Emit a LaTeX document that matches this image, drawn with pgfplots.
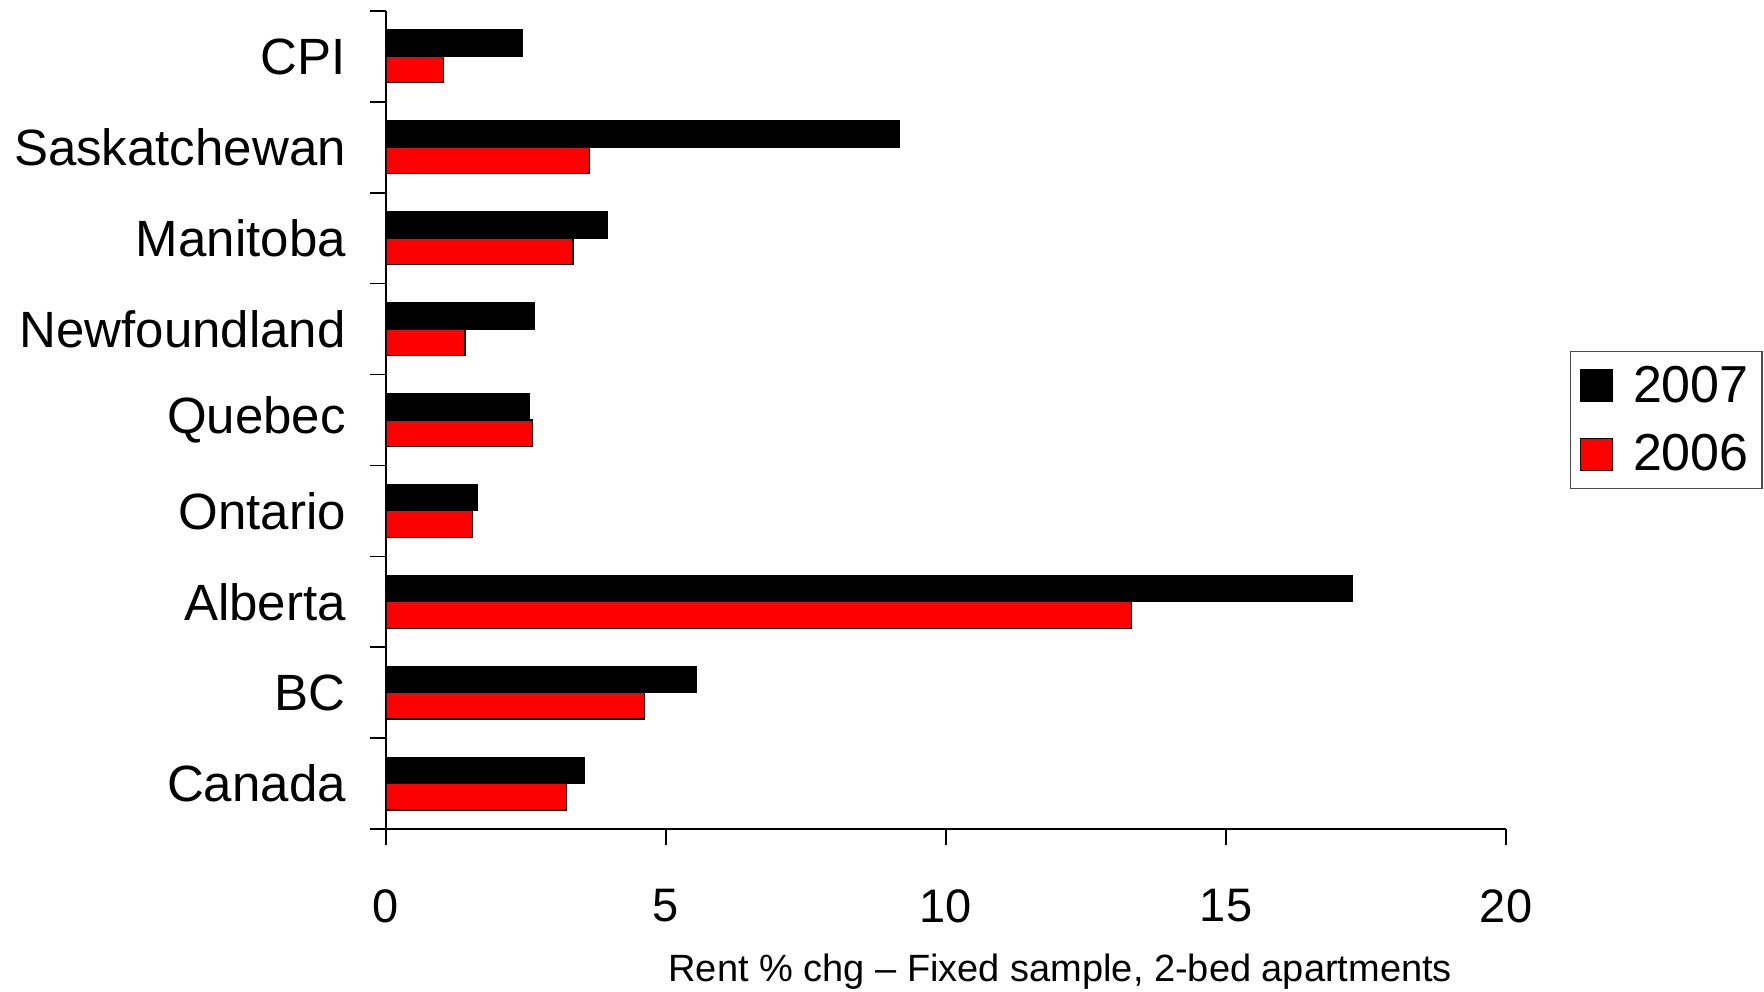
\documentclass[border=0pt]{standalone}
\usepackage{fontspec}
\setmainfont{Liberation Sans}
\usepackage{pgfplots}
\usepackage{pgfplotstable}
\pgfplotsset{compat=1.18}
\pgfplotstableread{
cat v2007 v2006
0 3.54 3.22
1 5.54 4.62
2 17.25 13.31
3 1.63 1.54
4 2.56 2.62
5 2.65 1.41
6 3.96 3.34
7 9.16 3.64
8 2.43 1.02
}\rentdata
\begin{document}
\begin{tikzpicture}
\useasboundingbox (-193pt,-81pt) rectangle (689pt,414.5pt);
\begin{axis}[
  scale only axis, width=560pt, height=409pt,
  xbar, bar width=0.29,
  xmin=0, xmax=20, ymin=-0.5, ymax=8.5,
  axis lines*=left,
  axis line style={line width=0.75pt},
  xtick={0,5,10,15,20},
  ytick={-0.5,0.5,1.5,2.5,3.5,4.5,5.5,6.5,7.5,8.5},
  yticklabels={Canada,BC,Alberta,Ontario,Quebec,Newfoundland,Manitoba,Saskatchewan,CPI,{}},
  major tick length=8pt,
  tick align=outside,
  tick style={line width=0.75pt, black},
  /pgf/number format/assume math mode=true,
  xticklabel style={font=\fontsize{23.5}{23.5}\selectfont, inner sep=0pt, anchor=north, yshift=-22pt},
  yticklabel style={font=\fontsize{25.5}{25.5}\selectfont, inner sep=0pt, anchor=east, xshift=-11.9pt, yshift=22.72pt},
  xlabel={Rent \% chg -- Fixed sample, 2-bed apartments},
  xlabel style={at={(axis description cs:0.602,0)}, anchor=base, yshift=-76pt, font=\fontsize{19}{19}\selectfont},
  legend style={at={(1.057,0.5)}, anchor=west, draw=black!70, line width=0.75pt,
    font=\fontsize{26}{26}\selectfont, inner xsep=4.7pt, inner ysep=5.4pt,
    nodes={inner sep=2pt}, column sep=8pt, row sep=10.5pt},
  legend cell align=left,
]
\addplot[fill=black, draw=black, line width=0.6pt, bar shift=0.145,
  legend image code/.code={\draw[fill=black, draw=black, line width=0.5pt] (0pt,-8pt) rectangle (16pt,8pt);}]
  table[x=v2007, y=cat]{\rentdata};
\addplot[fill=red, draw=black, line width=0.6pt, bar shift=-0.145,
  legend image code/.code={\draw[fill=red, draw=black, line width=0.5pt] (0pt,-8pt) rectangle (16pt,8pt);}]
  table[x=v2006, y=cat]{\rentdata};
\legend{2007,2006}
\end{axis}
\end{tikzpicture}
\end{document}
